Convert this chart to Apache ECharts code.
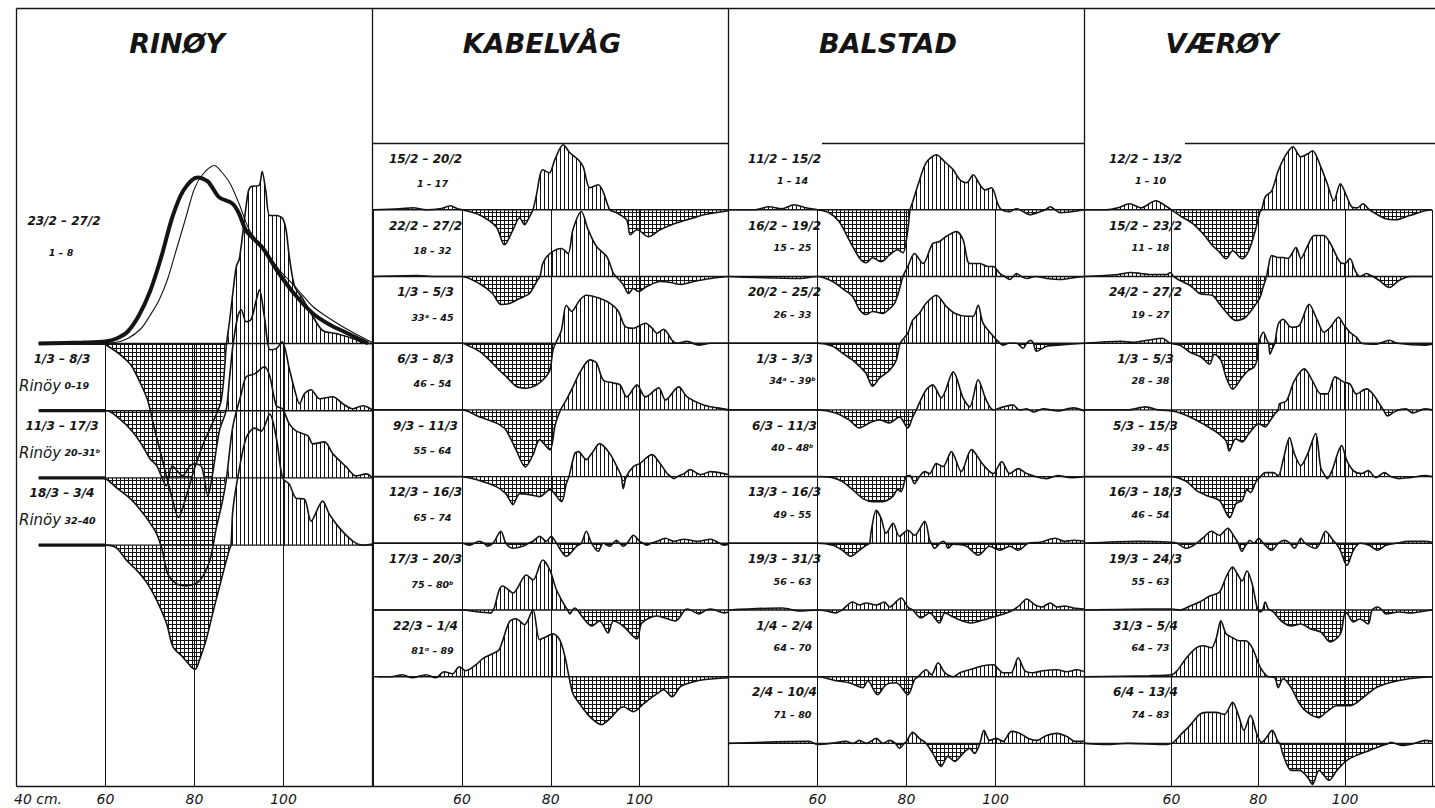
<!DOCTYPE html>
<html><head><meta charset="utf-8">
<script src="https://cdn.jsdelivr.net/npm/echarts@6/dist/echarts.min.js"></script>
<style>html,body{margin:0;padding:0;background:#fff}#chart{width:1435px;height:808px}</style>
</head><body><div id="chart"></div>
<script>
// ---- tick labels / categories ----
const lengthTicks = [60, 80, 100];
const panelTitles = ['RINØY', 'KABELVÅG', 'BALSTAD', 'VÆRØY'];
const rinoyDates = ['23/2 – 27/2','1/3 – 8/3','11/3 – 17/3','18/3 – 3/4'];
const rinoyNums = ['1 – 8','0–19','20–31ᵇ','32–40'];
const kabelvagDates = ['15/2 – 20/2','22/2 – 27/2','1/3 – 5/3','6/3 – 8/3','9/3 – 11/3','12/3 – 16/3','17/3 – 20/3','22/3 – 1/4'];
const kabelvagNums = ['1 – 17','18 – 32','33ᵃ – 45','46 – 54','55 – 64','65 – 74','75 – 80ᵇ','81ᵅ – 89'];
const balstadDates = ['11/2 – 15/2','16/2 – 19/2','20/2 – 25/2','1/3 – 3/3','6/3 – 11/3','13/3 – 16/3','19/3 – 31/3','1/4 – 2/4','2/4 – 10/4'];
const balstadNums = ['1 – 14','15 – 25','26 – 33','34ᵃ – 39ᵇ','40 – 48ᵇ','49 – 55','56 – 63','64 – 70','71 – 80'];
const vaeroyDates = ['12/2 – 13/2','15/2 – 23/2','24/2 – 27/2','1/3 – 5/3','5/3 – 15/3','16/3 – 18/3','19/3 – 24/3','31/3 – 5/4','6/4 – 13/4'];
const vaeroyNums = ['1 – 10','11 – 18','19 – 27','28 – 38','39 – 45','46 – 54','55 – 63','64 – 73','74 – 83'];

// ---- series values: [length cm, deviation] ----
const rinoyThick = [[45,0],[55,1],[60,2],[62.5,5],[65,12],[67.5,28],[70,52],[72.5,86],[75,126],[77.5,153],[80.7,166],[83,162],[84,156],[85.6,146],[88.5,140],[90,130],[91.6,113],[95.4,95],[98.4,74],[102,52],[106.6,30],[110.3,19],[114,11],[117.8,3],[119,0]];
const rinoyThin = [[55,0],[62,1],[65,5],[68,15],[70,28],[72,43],[74,65],[76,95],[78,125],[80,155],[82,170],[84.5,178],[86,172],[88,160],[90,140],[92.4,113],[96,92],[99,74],[103,55],[106.6,37],[110,26],[114,15],[118.6,4],[120,1]];
const rinoyA = [[45,0],[59.3,0],[61,-4],[63,-10],[65,-18],[66.1,-24],[68.3,-44],[69.5,-57],[71,-85],[73,-120],[75,-155],[76.4,-174],[78,-155],[80,-125],[82,-100],[84,-80],[86,-57],[87.2,0],[87.9,23],[88.6,50],[89.4,77],[90.1,85],[92,150],[92.7,157],[94.5,158],[95.2,172],[96,153],[96.9,128],[98.4,128],[99.8,125],[100.6,113],[101.3,87],[102.5,57],[104,47],[106.6,27],[108.8,13],[111.8,10],[115.6,5],[118.6,0],[120,0]];
const rinoyB = [[45,0],[60.2,0],[63.1,-8],[66.1,-21],[68.3,-35],[70,-48],[71.5,-55],[73.7,-75],[75,-55],[77.3,-65],[79,-55],[80,-53],[81.6,-56],[83,-85],[84,-65],[85.6,-20],[87.1,0],[87.9,34],[88.6,64],[89.7,94],[90.5,101],[91.6,89],[92.7,91],[93.9,111],[94.6,121],[95.7,94],[97,61],[98.4,62],[99.7,69],[101.3,42],[102.5,21],[103.6,7],[104.7,17],[106.2,21],[108.1,12],[111.1,14],[113.3,7],[115.6,2],[117.8,5],[120,1]];
const rinoyC = [[45,0],[59.3,0],[62.5,-10],[66.1,-23],[69.2,-40],[71.5,-56],[72.8,-73],[74,-96],[76,-106],[78.2,-108],[81.1,-103],[83.4,-83],[84.9,-50],[86.3,-23],[87.2,0],[88.6,51],[90.5,84],[91.6,101],[93.5,104],[95.7,111],[96.9,102],[98.4,72],[99.8,69],[101.3,54],[102.8,47],[105.5,42],[106.6,34],[109.2,36],[111.1,24],[114.1,11],[116.3,2],[118.6,4],[120,0]];
const rinoyD = [[45,0],[60.2,0],[62.5,-3],[64.7,-15],[67,-25],[69.2,-37],[71.5,-55],[73.7,-78],[75.2,-102],[77.4,-112],[79.3,-122],[80.2,-124],[81.1,-115],[82.6,-95],[84.1,-68],[86,-35],[87.8,-5],[88.2,0],[88.6,34],[89.7,67],[91.6,107],[93.5,117],[95,114],[96.9,131],[98.4,107],[99.8,67],[101.3,61],[102.8,47],[104.7,46],[106.2,24],[108.8,44],[110.3,31],[112.6,17],[115.6,4],[117.8,0],[120,1]];

const kab1 = [[40,0],[46,1],[49,2],[52,0],[55,1],[57.5,4],[59,1],[60,0],[63.9,-5],[67.7,-17],[69.6,-35],[71.5,-20],[73,-8],[74.1,-15],[75.2,-7],[76,0],[76.7,13],[78.2,40],[79.7,37],[80.9,50],[82.8,65],[84.3,57],[86.2,50],[87.3,43],[88.8,22],[90.7,25],[91.8,18],[93.3,0],[94.8,-3],[97.1,-10],[97.9,-25],[99.4,-20],[102,-27],[104.6,-20],[108.4,-13],[112.2,-8],[114.4,-5],[120,-1]];
const kab2 = [[40,0],[50,1],[54,0],[60,0],[63.9,-7],[66.9,-17],[68.8,-28],[70.7,-27],[73,-22],[75.2,-17],[77.1,-3],[77.6,0],[78.2,13],[79.8,23],[82.4,28],[83.9,23],[85,47],[86.9,65],[88.4,47],[90.3,30],[92.6,20],[94.1,3],[94.7,0],[96.3,-8],[97.5,-17],[98.6,-12],[99.7,-15],[101.6,-10],[104.6,-5],[107,-6],[109.2,-8],[112.2,-5],[116,-2],[120,0]];
const kab3 = [[40,0],[60,0],[61.7,-3],[63.9,-8],[66.2,-17],[68.4,-27],[69.9,-33],[72.2,-43],[74.5,-45],[76.7,-42],[78.6,-35],[79.8,-27],[80.5,-7],[81.1,0],[82.4,13],[83.5,38],[84.7,32],[86.5,43],[88,48],[91,45],[93.3,40],[95.2,32],[96.7,17],[98.6,15],[101.3,20],[102.8,15],[103.9,10],[105.4,14],[107.3,3],[108.4,0],[110.7,2],[113.3,-2],[116,0],[120,0]];
const kab4 = [[40,0],[60,0],[64,-7],[67.7,-13],[69.9,-20],[72.2,-40],[74.3,-57],[76,-45],[77.5,-30],[79.8,-40],[81,-15],[82.2,0],[83.5,10],[85,23],[86.5,37],[88.8,50],[90.3,47],[91.8,30],[94.1,27],[95.6,25],[97.1,13],[99.4,25],[101.3,13],[104.3,22],[105.8,10],[108.8,23],[110.7,13],[114.4,5],[117.5,2],[120,0]];
const kab5 = [[40,0],[60,0],[63.2,-3],[67.7,-10],[69.9,-17],[71.5,-28],[73,-17],[75.2,-18],[77.5,-20],[79.8,-13],[82.4,-25],[83.5,-7],[84.1,0],[85.4,23],[86.2,25],[88,17],[89.2,23],[91,33],[93.3,23],[95.2,7],[95.9,0],[96.3,-12],[97,0],[98.6,10],[100,13],[102.8,22],[104.6,13],[106.2,3],[107,0],[107.7,-2],[108.5,0],[110,3],[111.4,7],[113.7,2],[116,5],[120,2]];
const kab6 = [[40,0],[60,0],[61.7,-2],[62.8,0],[63.9,2],[65,0],[65.8,-3],[67,0],[68.8,12],[69.9,0],[71.5,-5],[73.7,-3],[75,0],[76,2],[77.5,7],[79,2],[80.1,7],[81.3,0],[83.5,-13],[85.8,-3],[86.9,0],[88,12],[89.2,0],[90.7,-8],[91.8,0],[93.3,-3],[94,0],[94.8,3],[95.5,0],[96.3,-3],[97.2,0],[98.6,8],[100,2],[100.8,0],[101.6,-2],[102.6,0],[103.9,2],[105.8,5],[107.7,2],[110,4],[113,2],[116,4],[118,0],[119,-2],[120,-1]];
const kab7 = [[40,0],[60,0],[63.9,-2],[66.6,-3],[67,0],[67.3,2],[68.4,20],[69.2,24],[71.5,17],[74.5,35],[76,30],[78.2,50],[79.8,40],[81.3,20],[83.2,4],[83.8,0],[84.3,-4],[84.9,0],[85.4,2],[86,0],[87.3,-8],[89.2,-16],[91,-11],[92.9,-23],[94.1,-11],[96.3,-16],[99.4,-29],[100.5,-13],[103.9,-6],[108,-11],[110.2,0],[110.7,1],[111.5,0],[113.3,-4],[115,0],[116,1],[117,0],[119,-3],[120,-2]];
const kab8 = [[41,0],[44,0],[46.6,2],[48.8,-1],[51.9,2],[54.1,-1],[56,5],[57.9,3],[59.4,10],[60.9,6],[63.2,12],[64.7,18],[66.9,23],[68.4,27],[70.7,55],[72.2,58],[74.1,52],[76,67],[77.5,37],[79,40],[80.5,43],[82,37],[83.2,20],[84.1,0],[85,-17],[86.5,-27],[88.8,-40],[91.4,-48],[93.3,-42],[96.3,-30],[98.6,-35],[100.9,-27],[103.9,-17],[105.4,-13],[107.3,-20],[109.2,-10],[112.2,-5],[114.4,-3],[120,-1]];

const bal1 = [[40,0],[46,0],[49.1,3],[52,1],[54.7,5],[57.4,2],[60,0],[62.6,-3],[64.9,-12],[67.1,-30],[69.4,-48],[70.9,-53],[72.4,-48],[74.3,-52],[76.2,-45],[78,-40],[79.2,-43],[80.3,-20],[80.8,0],[81.4,8],[82.6,25],[84.4,47],[86.7,55],[88.6,48],[90.5,40],[92,30],[93.5,27],[95,35],[96.5,25],[97.6,20],[99.1,22],[100.6,5],[101.4,0],[103.2,-2],[104,0],[104.7,1],[105.5,0],[107.7,-5],[110,-2],[111.2,0],[112.3,3],[113.4,0],[114.5,-3],[120,0]];
const bal2 = [[40,0],[46,-1],[56,-2],[60,0],[63.4,-5],[65.6,-12],[67.9,-20],[69.4,-33],[70.9,-38],[72.4,-35],[74.7,-37],[76.2,-32],[77.3,-27],[78.4,-13],[79.2,0],[80.3,10],[81.8,23],[83.7,13],[85.9,33],[87.4,35],[88.9,40],[91.2,45],[92.7,37],[94.2,13],[96.5,13],[98.3,10],[99.5,10],[101,3],[102.1,0],[103.2,-3],[104,0],[104.7,3],[105.8,0],[107,-2],[109,0],[111.5,-2],[114.5,-3],[118,-1],[120,0]];
const bal3 = [[40,0],[60,0],[63.4,-3],[65.6,-10],[67.9,-17],[69.4,-23],[70.9,-30],[72.4,-43],[73.9,-35],[76.2,-27],[77.7,-17],[78.6,0],[80.3,10],[81.4,23],[82.9,30],[84.4,40],[86.7,48],[88.9,37],[90.8,30],[93.5,27],[95,27],[96.1,38],[97.2,20],[99.5,7],[101,0],[101.7,-2],[103,0],[104.7,0],[106.2,-5],[107,0],[107.9,3],[108.5,0],[109.2,-8],[111.5,-3],[114,-2],[120,0]];
const bal4 = [[40,0],[60,0],[64.1,-3],[67.1,-10],[69.4,-18],[71.7,-13],[73.9,-10],[76.2,-13],[78.4,-7],[80.3,-18],[81.4,-7],[82.2,0],[82.9,7],[84.4,20],[85.9,25],[87.8,12],[90.5,38],[92.7,12],[94.2,3],[96.1,30],[97.9,10],[99.5,0],[101.7,3],[103.9,5],[105.4,0],[107,1],[108.5,-2],[110.7,1],[114,-1],[117.5,2],[120,-1]];
const bal5 = [[40,0],[60,0],[63.4,-1],[65.6,-5],[67.9,-13],[70.2,-22],[72.4,-25],[74.7,-25],[76.9,-20],[78,-13],[78.8,-15],[79.9,0],[80.8,1],[81.8,-7],[82.9,0],[84.1,5],[85.2,3],[86.7,13],[88.2,10],[90.1,25],[92.3,5],[94.6,27],[97.2,12],[99.5,3],[101.4,15],[103.2,3],[105.1,8],[107,3],[109,0],[111.5,-2],[114,1],[117,-1],[120,0]];
const bal6 = [[40,0],[60,0],[63.4,-2],[65.6,-7],[67.5,-13],[69.4,-7],[70.9,-2],[71.7,0],[72,10],[73.2,33],[74.3,25],[75.4,10],[77,20],[78.4,7],[80.3,13],[81.8,8],[84.1,22],[85.2,3],[85.6,0],[86.3,-5],[87.5,0],[88.2,2],[88.8,0],[89.3,-5],[90.5,-1],[93.5,-3],[96.1,-12],[98.7,-3],[101,-7],[103.2,-3],[105.1,-7],[107.4,0],[110,1],[113.4,5],[115.5,2],[117.5,3],[120,2]];
const bal7 = [[40,0],[52.1,2],[56,-1],[60,0],[62,-1],[64.1,-3],[65.5,0],[67.9,8],[69.4,5],[70.9,7],[73.2,5],[75,8],[76.2,3],[78.8,12],[80.3,3],[81.4,0],[83.3,-8],[85.2,-3],[87.4,-13],[88.6,-3],[90.5,-7],[92,-10],[94.6,-13],[97.2,-10],[99.5,-7],[102.5,-3],[104,0],[105.5,5],[107,11],[108.9,5],[110.4,3],[112.3,7],[113.8,3],[115.5,4],[117.5,2],[120,1]];
const bal8 = [[40,0],[60,0],[64.1,-4],[67.1,-6],[70.2,-11],[71.3,-4],[73.5,-18],[75.4,-8],[77.7,-6],[80.3,-18],[81.8,-3],[82.6,0],[84.4,7],[85.6,2],[87.1,14],[88.6,4],[90.5,0],[92,4],[94.2,7],[97.2,11],[99.5,12],[101.7,4],[103.5,4],[105.1,19],[106.6,6],[108.5,4],[110.7,6],[113.8,7],[116,5],[118.3,7],[120,5]];
const bal9 = [[40,0],[58.1,2],[60,-1],[63,0],[66.4,2],[68,0],[69.4,3],[71,0],[73.2,5],[74.7,0],[76.2,3],[77.5,0],[78.4,-5],[79.5,0],[80,2],[81.4,11],[82.9,5],[84.4,0],[85.9,-10],[87.8,-23],[89.3,-13],[90.8,-18],[92.7,-10],[94.2,-5],[95.3,-10],[96.5,0],[97.4,13],[98.7,3],[100.2,5],[101.7,2],[103.6,12],[105.5,10],[107.4,5],[109.3,3],[111.5,8],[113.8,10],[116,7],[117.9,2],[120,2]];

const vae1 = [[40,0],[45,0],[47.7,2],[50.4,6],[53,2],[56.4,9],[59,3],[60,0],[62,-6],[65,-14],[67.3,-24],[69.5,-36],[71,-42],[72.6,-49],[74.1,-41],[76.3,-49],[77.8,-41],[79.3,-21],[80.4,-2],[80.8,0],[81.6,13],[83.1,19],[84.6,39],[86.1,53],[88,63],[89.8,53],[91.4,56],[92.5,59],[94.4,43],[95.9,26],[97.4,9],[98.9,26],[100.4,13],[101.5,3],[102.8,2],[104.1,6],[105.6,0],[107.1,-4],[109.4,-9],[111.7,-10],[114.7,-6],[118.4,-1],[120,0]];
const vae2 = [[40,0],[47.7,2],[50.7,4],[53,3],[55,2],[58.9,2],[59.8,4],[60.5,0],[62,-4],[64.3,-9],[66.5,-17],[69.5,-19],[71,-27],[72.9,-37],[74.8,-44],[77,-41],[78.9,-31],[80.4,-21],[81.1,-11],[81.9,0],[82.3,9],[83.1,21],[84.6,19],[85.7,19],[86.8,18],[88.7,29],[89.8,18],[91.4,31],[92.9,41],[95.1,41],[96.6,33],[98.9,14],[100,13],[101.1,18],[102.3,6],[103.4,0],[104.9,3],[106,1],[107.9,-4],[110.2,-11],[112.4,-4],[115,0],[120,0]];
const vae3 = [[40,0],[48.5,2],[51,1],[54.5,3],[57.9,5],[59.7,0],[62,-2],[64.3,-9],[66.9,-14],[68.8,-21],[69.9,-11],[71.4,-17],[72.6,-34],[74.1,-46],[76.3,-34],[77.8,-27],[79,-24],[79.7,-17],[80.1,0],[81.2,11],[82,3],[82.4,0],[82.7,-11],[83.3,-5],[83.8,0],[84.6,19],[85.7,24],[87.6,16],[89.5,18],[91.7,39],[93.6,23],[95.1,11],[96.6,16],[98.5,26],[99.6,19],[101.1,11],[102.6,6],[103.8,0],[107,-1],[110.2,3],[112,0],[118.4,-2],[120,-1]];
const vae4 = [[40,0],[50,0],[54.1,3],[57,0],[60,-1],[61.3,-2],[64.3,-7],[67.3,-14],[70.3,-22],[72.6,-31],[73.3,-41],[74.8,-29],[76.3,-32],[77.8,-24],[80.1,-14],[81.6,-17],[82.7,-11],[83.8,-4],[84.6,0],[84.9,6],[86.5,9],[88.3,29],[90.6,41],[92.5,29],[94.4,16],[95.9,16],[97.7,33],[99.6,28],[101.1,26],[102.6,16],[104.9,21],[106.4,16],[107.9,6],[108.8,0],[109.8,-6],[111.7,-1],[114,1],[115.5,-3],[118.4,1],[120,0]];
const vae5 = [[40,0],[60,0],[63.5,-5],[65.8,-14],[68.1,-19],[71.1,-24],[73.4,-41],[74.9,-27],[76.3,-24],[77.4,-13],[78.2,-16],[79.5,-5],[80.5,0],[81.6,4],[83.5,4],[84.6,1],[85.7,16],[87.2,39],[88.3,23],[89.8,11],[91.4,23],[93.2,43],[94.4,9],[95.5,0],[95.9,-2],[96.3,0],[97,6],[99.2,31],[100.4,16],[101.9,6],[103.8,3],[105.3,6],[107.1,-1],[109,4],[110.5,0],[112.4,-2],[115,-1],[118.4,1],[120,0]];
const vae6 = [[40,0],[52.3,2],[60,1],[61.3,0],[63.5,-5],[65.8,0],[67.7,7],[69.2,12],[71.1,8],[73,15],[74.4,7],[75.4,0],[76.2,-8],[77.1,-2],[77.5,0],[78,3],[79,0],[80.1,5],[81.2,0],[83.1,-7],[84.6,0],[86.1,3],[87.3,0],[88.3,-5],[89.1,0],[89.8,5],[90.8,0],[93.2,-5],[94.2,0],[95.5,12],[97.4,2],[97.9,0],[98.9,-7],[100.4,-22],[101.9,-7],[103.4,0],[105.5,-2],[107.5,-7],[109.4,-2],[111.7,0],[114.7,2],[118.4,2],[120,1]];
const vae7 = [[40,0],[55,1],[60,1],[62,0],[64.3,4],[66.5,8],[68.8,14],[71.1,18],[72.6,33],[74.1,43],[75.2,36],[76.3,29],[77.4,39],[78.6,26],[79.7,3],[80.1,0],[80.5,-2],[81,0],[81.6,8],[82.3,1],[82.8,0],[83.5,-2],[85.3,-11],[87.6,-16],[89.8,-14],[92.1,-19],[94.4,-22],[96.6,-32],[98.9,-24],[99.8,-5],[100.3,-3],[101.9,-12],[103.4,-9],[105.3,-14],[106.2,0],[107.5,3],[108.5,0],[109.4,-4],[112.4,-2],[115,-3],[118.4,-1],[120,0]];
const vae8 = [[40,0],[55,1],[60,2],[61.3,6],[63.5,19],[65.8,29],[67.3,31],[69.2,29],[70.3,38],[71.4,56],[72.6,43],[74.1,39],[75.6,36],[77.1,36],[78.6,29],[80.5,9],[81.9,1],[82.5,0],[83.8,-1],[84.6,-11],[85.7,-2],[87.6,-11],[89.5,-27],[91.4,-36],[94,-41],[95.5,-36],[98.1,-29],[101.1,-29],[104.1,-21],[107.1,-11],[110.2,-6],[114.7,-2],[120,0]];
const vae9 = [[40,0],[45,-1],[50,0],[59,-1],[60,0],[60.5,1],[62,8],[64.3,18],[66.5,29],[68,31],[70.3,31],[72.2,29],[74.1,41],[75.6,26],[76.7,13],[78.2,28],[79.7,9],[80.8,1],[81.9,6],[83.2,13],[84.6,1],[85,0],[85.7,-11],[87.6,-27],[89.5,-27],[91.4,-34],[92.5,-41],[94,-27],[96.3,-37],[98.1,-27],[100.4,-17],[102.6,-12],[105.6,-7],[108.6,-2],[110,0],[110.5,1],[111.5,0],[113.2,-2],[116,0],[118.4,3],[120,2]];

const rinoyRows = [rinoyA, rinoyB, rinoyC, rinoyD];
const kabelvagRows = [kab1, kab2, kab3, kab4, kab5, kab6, kab7, kab8];
const balstadRows = [bal1, bal2, bal3, bal4, bal5, bal6, bal7, bal8, bal9];
const vaeroyRows = [vae1, vae2, vae3, vae4, vae5, vae6, vae7, vae8, vae9];

// ---- layout (pixels) ----
const BOTTOM = 786;
const layout = [
  {left:16.5, width:356, first:343.5, step:67.2, start:45, titleX:177, d1:48, d2:60},
  {left:373, width:355.5, first:209.8, step:66.7, start:40, titleX:542, d1:53, d2:60},
  {left:728.5, width:356, first:209.8, step:66.7, start:40, titleX:888, d1:56, d2:64},
  {left:1084.5, width:354, first:209.8, step:66.7, start:40, titleX:1222, d1:61, d2:66}
];
const panelRows = [rinoyRows, kabelvagRows, balstadRows, vaeroyRows];
const panelDates = [rinoyDates, kabelvagDates, balstadDates, vaeroyDates];
const panelNums = [rinoyNums, kabelvagNums, balstadNums, vaeroyNums];
const sepX = [372.5, 728.5, 1084.5];

function makePattern(cross) {
  const c = document.createElement('canvas');
  c.width = 4; c.height = 4;
  const g = c.getContext('2d');
  g.fillStyle = '#111';
  g.fillRect(0, 0, 1, 4);
  if (cross) g.fillRect(0, 0, 4, 1);
  return {image: c, repeat: 'repeat', imageWidth: 4, imageHeight: 4};
}
const vHatch = makePattern(false);
const xHatch = makePattern(true);

const INK = '#141414';
const FONT = '"DejaVu Sans", sans-serif';
const grids = [], xAxes = [], yAxes = [], series = [], graphics = [];

layout.forEach((L, i) => {
  grids.push({left: L.left, width: L.width, top: L.first, height: BOTTOM - L.first});
  xAxes.push({gridIndex: i, type: 'value', min: 40, max: 120, interval: 20,
    axisLine: {show: false}, axisTick: {show: false},
    splitLine: {show: true, lineStyle: {color: INK, width: 1}},
    axisLabel: {margin: 6, color: INK, fontSize: 14, fontStyle: 'italic', fontFamily: FONT,
      formatter: v => lengthTicks.includes(v) ? String(v) : ''}});
  yAxes.push({gridIndex: i, type: 'value', inverse: true, min: L.first, max: BOTTOM, show: false});
  const common = {type: 'line', xAxisIndex: i, yAxisIndex: i, symbol: 'none', showSymbol: false,
    smooth: 0.3, clip: false, silent: true, animation: false};
  panelRows[i].forEach((row, j) => {
    const b = L.first + j * L.step;
    series.push(Object.assign({}, common, {z: 2, data: row.map(([x, v]) => [x, b - Math.max(v, 0)]),
      lineStyle: {width: 0, opacity: 0}, areaStyle: {origin: b, color: vHatch, opacity: 1}}));
    series.push(Object.assign({}, common, {z: 2, data: row.map(([x, v]) => [x, b - Math.min(v, 0)]),
      lineStyle: {width: 0, opacity: 0}, areaStyle: {origin: b, color: xHatch, opacity: 1}}));
    series.push(Object.assign({}, common, {z: 3, smooth: false, data: [[L.start, b], [120, b]],
      lineStyle: {color: INK, width: 1.4}}));
    if (i === 0) {
      series.push(Object.assign({}, common, {z: 3, smooth: false, data: [[L.start, b], [60, b]],
        lineStyle: {color: INK, width: 3.2}}));
    }
    series.push(Object.assign({}, common, {z: 4, data: row.map(([x, v]) => [x, b - v]),
      lineStyle: {color: INK, width: 1.6}}));
  });
});

// Rinøy distribution curves on the first row
(function () {
  const L = layout[0], b = L.first;
  const common = {type: 'line', xAxisIndex: 0, yAxisIndex: 0, symbol: 'none', smooth: 0.3,
    clip: false, silent: true, animation: false};
  const peak = Math.max(...rinoyThick.map(p => p[1]));
  series.push(Object.assign({}, common, {z: 5, data: rinoyThick.map(([x, v]) => [x, b - v]),
    lineStyle: {color: INK, width: 4},
    markLine: {silent: true, symbol: 'none', label: {show: false}, lineStyle: {color: INK, width: 1, type: 'solid'},
      data: [[{coord: [80, b - peak]}, {coord: [80, b]}]]}}));
  series.push(Object.assign({}, common, {z: 5, data: rinoyThin.map(([x, v]) => [x, b - v]),
    lineStyle: {color: INK, width: 1.1}}));
})();

// frame
const line = (x1, y1, x2, y2, w) => ({type: 'line', silent: true, z: 10,
  shape: {x1, y1, x2, y2}, style: {stroke: INK, lineWidth: w || 1.3}});
graphics.push(line(16.5, 8.5, 16.5, 786.5), line(16.5, 8.5, 1435, 8.5), line(16.5, 786.5, 1435, 786.5, 1.6));
sepX.forEach(x => graphics.push(line(x, 8.5, x, 786.5)));
graphics.push(line(372.5, 143.5, 728.5, 143.5), line(822, 143.5, 1084.5, 143.5), line(1185, 143.5, 1435, 143.5));

// titles
panelTitles.forEach((t, i) => graphics.push({type: 'text', silent: true, z: 10,
  style: {text: t, x: layout[i].titleX, y: 43, align: 'center', verticalAlign: 'middle',
    font: 'italic bold 27px ' + FONT, fill: INK}}));

// row labels
const txt = (text, x, y, font, align) => ({type: 'text', silent: true, z: 10,
  style: {text, x, y, align: align || 'center', verticalAlign: 'middle', font, fill: INK}});
const dateFont = 'italic bold 12px ' + FONT, numFont = 'italic bold 9.5px ' + FONT;
panelDates.forEach((dates, i) => {
  const L = layout[i];
  dates.forEach((d, j) => {
    const b = L.first + j * L.step;
    if (i === 0) {
      if (j === 0) {
        graphics.push(txt(d, 64, 221, dateFont), txt(panelNums[0][0], 61, 252, numFont));
      } else {
        graphics.push(txt(d, 62, b - 52, dateFont));
        graphics.push({type: 'text', silent: true, z: 10, style: {
          text: '{r|Rinöy} {n|' + panelNums[0][j] + '}', x: 19, y: b - 25, align: 'left', verticalAlign: 'middle',
          fill: INK, rich: {r: {font: 'italic 15px ' + FONT, fill: INK}, n: {font: numFont, fill: INK}}}});
      }
    } else {
      const xl = sepX[i - 1];
      graphics.push(txt(d, xl + L.d1, b - 51, dateFont));
      graphics.push(txt(panelNums[i][j], xl + L.d2, b - (i === 1 ? 26 : 29), numFont));
    }
  });
});
graphics.push(txt('40 cm.', 14, 799, 'italic 14px ' + FONT, 'left'));

const chart = echarts.init(document.getElementById('chart'), null, {renderer: 'svg'});
chart.setOption({
  backgroundColor: '#fff',
  animation: false,
  grid: grids, xAxis: xAxes, yAxis: yAxes, series: series, graphic: graphics
});
</script></body></html>
